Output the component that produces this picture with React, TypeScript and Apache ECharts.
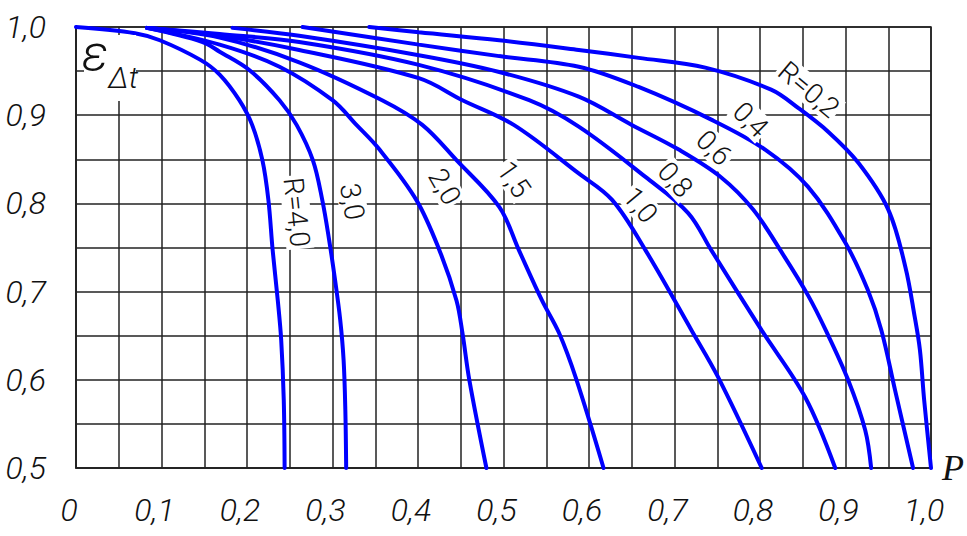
import React, { useEffect, useRef } from "react";
import * as echarts from "echarts";

const xTickLabels = ["0", "0,1", "0,2", "0,3", "0,4", "0,5", "0,6", "0,7", "0,8", "0,9", "1,0"];
const yTickLabels = ["0,5", "0,6", "0,7", "0,8", "0,9", "1,0"];

const curveNames = ["R=4,0", "3,0", "2,0", "1,5", "1,0", "0,8", "0,6", "0,4", "R=0,2"];

const r40: [number, number][] = [[0, 1.0], [0.069, 0.993], [0.098, 0.985], [0.145, 0.963], [0.168, 0.946], [0.191, 0.917], [0.206, 0.889], [0.218, 0.849], [0.225, 0.804], [0.23, 0.747], [0.236, 0.69], [0.24, 0.645], [0.243, 0.577], [0.244, 0.5]];
const r30: [number, number][] = [[0.083, 0.999], [0.148, 0.983], [0.168, 0.972], [0.203, 0.951], [0.238, 0.917], [0.258, 0.889], [0.277, 0.849], [0.288, 0.804], [0.296, 0.759], [0.303, 0.713], [0.309, 0.668], [0.313, 0.622], [0.315, 0.566], [0.316, 0.5]];
const r20: [number, number][] = [[0.083, 0.999], [0.168, 0.98], [0.238, 0.955], [0.3, 0.917], [0.328, 0.889], [0.355, 0.861], [0.398, 0.804], [0.425, 0.747], [0.445, 0.69], [0.452, 0.653], [0.46, 0.6], [0.48, 0.5]];
const r15: [number, number][] = [[0.083, 0.999], [0.168, 0.988], [0.261, 0.96], [0.358, 0.917], [0.405, 0.889], [0.445, 0.849], [0.495, 0.796], [0.518, 0.747], [0.545, 0.69], [0.565, 0.653], [0.585, 0.601], [0.617, 0.5]];
const r10: [number, number][] = [[0.083, 0.999], [0.168, 0.99], [0.261, 0.974], [0.401, 0.942], [0.452, 0.917], [0.512, 0.889], [0.588, 0.834], [0.627, 0.804], [0.666, 0.747], [0.72, 0.656], [0.751, 0.603], [0.802, 0.5]];
const r08: [number, number][] = [[0.083, 0.999], [0.168, 0.992], [0.261, 0.983], [0.401, 0.957], [0.53, 0.917], [0.588, 0.887], [0.666, 0.83], [0.716, 0.789], [0.743, 0.747], [0.802, 0.656], [0.853, 0.58], [0.888, 0.5]];
const r06: [number, number][] = [[0.183, 0.999], [0.261, 0.99], [0.401, 0.968], [0.495, 0.949], [0.588, 0.921], [0.65, 0.889], [0.705, 0.861], [0.754, 0.83], [0.792, 0.793], [0.827, 0.742], [0.856, 0.696], [0.877, 0.656], [0.903, 0.6], [0.923, 0.543], [0.93, 0.5]];
const r04: [number, number][] = [[0.265, 1.0], [0.401, 0.98], [0.495, 0.967], [0.588, 0.955], [0.658, 0.932], [0.743, 0.895], [0.806, 0.861], [0.856, 0.819], [0.9, 0.755], [0.926, 0.702], [0.942, 0.656], [0.958, 0.588], [0.979, 0.5]];
const r02: [number, number][] = [[0.343, 1.0], [0.401, 0.994], [0.495, 0.985], [0.588, 0.974], [0.658, 0.965], [0.736, 0.954], [0.813, 0.929], [0.845, 0.908], [0.88, 0.881], [0.915, 0.846], [0.95, 0.793], [0.97, 0.728], [0.981, 0.671], [0.987, 0.634], [0.992, 0.577], [1.0, 0.5]];

const curves = [r40, r30, r20, r15, r10, r08, r06, r04, r02];

// label anchor (data coords) and rotation in degrees (clockwise)
const labelAnchors: [number, number][] = [[0.258, 0.79], [0.323, 0.802], [0.431, 0.819], [0.512, 0.827], [0.66, 0.798], [0.701, 0.827], [0.746, 0.863], [0.789, 0.895], [0.857, 0.929]];
const labelAngles = [84, 80, 60, 55, 50, 48, 45, 45, 40];

const FONT = "Roboto, 'DejaVu Sans Condensed', sans-serif";

export default function App() {
  const ref = useRef<HTMLDivElement>(null);
  useEffect(() => {
    const el = ref.current!;
    const chart = echarts.init(el, null, { renderer: "svg" });
    const gridColor = "#222";
    const series = curves.map((d, i) => ({
      type: "line",
      name: curveNames[i],
      data: d,
      symbol: "none",
      showSymbol: false,
      smooth: 0.35,
      silent: true,
      lineStyle: { color: "#0000ff", width: 4, cap: "round" },
      z: 3,
    }));
    const labelFont = {
      fontFamily: FONT,
      fontStyle: "italic",
      fontWeight: 300,
      fontSize: 32,
      color: "#111",
    };
    chart.setOption({
      animation: false,
      backgroundColor: "#fff",
      grid: { left: 76, right: 34, top: 27, bottom: 68, show: true, borderColor: gridColor, borderWidth: 1.5, backgroundColor: "transparent" },
      xAxis: {
        type: "value",
        min: 0,
        max: 1,
        interval: 0.05,
        name: "P",
        nameLocation: "end",
        nameGap: 11,
        nameTextStyle: { fontFamily: "'Liberation Serif', serif", fontStyle: "italic", fontSize: 36, color: "#111", verticalAlign: "middle" },
        axisLine: { show: true, lineStyle: { color: gridColor, width: 1.5 } },
        axisTick: { show: false },
        splitLine: { show: true, lineStyle: { color: gridColor, width: 1.5 } },
        axisLabel: {
          ...labelFont,
          margin: 26,
          padding: [0, 14, 0, 0],
          formatter: (v: number) => {
            const idx = Math.round(v * 20);
            return idx % 2 === 0 ? xTickLabels[idx / 2] : "";
          },
        },
      },
      yAxis: {
        type: "value",
        min: 0.5,
        max: 1,
        interval: 0.05,
        axisLine: { show: true, lineStyle: { color: gridColor, width: 1.5 } },
        axisTick: { show: false },
        splitLine: { show: true, lineStyle: { color: gridColor, width: 1.5 } },
        axisLabel: {
          ...labelFont,
          margin: 30,
          formatter: (v: number) => {
            const idx = Math.round((v - 0.5) * 20);
            return idx % 2 === 0 ? yTickLabels[idx / 2] : "";
          },
        },
      },
      series,
    });

    const labelEls = labelAnchors.map((a, i) => {
      const p = chart.convertToPixel({ gridIndex: 0 }, a) as number[];
      return {
        type: "text",
        x: p[0],
        y: p[1],
        rotation: (-labelAngles[i] * Math.PI) / 180,
        z: 100,
        style: {
          text: curveNames[i],
          fontFamily: FONT,
          fontWeight: 300,
          fontSize: 28,
          fill: "#111",
          align: "center",
          verticalAlign: "middle",
          backgroundColor: "#fff",
          padding: [0, 2],
        },
      };
    });

    chart.setOption({
      graphic: [
        { type: "rect", z: 90, shape: { x: 84, y: 35, width: 52, height: 66 }, style: { fill: "#fff" } },
        {
          type: "text",
          z: 100,
          x: 82,
          y: 28,
          style: {
            text: "{e|ε}{s|Δt}",
            align: "left",
            verticalAlign: "top",
            rich: {
              e: { fontFamily: FONT, fontStyle: "italic", fontWeight: 300, fontSize: 50, lineHeight: 64, verticalAlign: "top", fill: "#111" },
              s: { fontFamily: FONT, fontStyle: "italic", fontWeight: 300, fontSize: 30, lineHeight: 20, verticalAlign: "bottom", fill: "#111" },
            },
          },
        },
        ...labelEls,
      ],
    });
    return () => chart.dispose();
  }, []);
  return <div ref={ref} style={{ position: "fixed", left: 0, top: 0, width: 967, height: 536, background: "#fff" }} />;
}
